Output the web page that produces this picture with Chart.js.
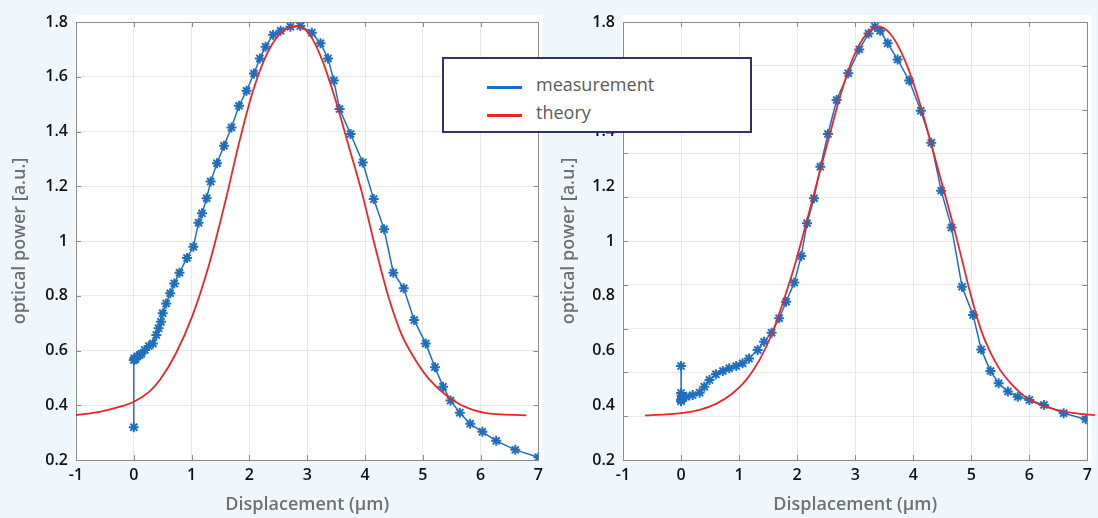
<!DOCTYPE html>
<html>
<head>
<meta charset="utf-8">
<script src="https://cdn.jsdelivr.net/npm/chart.js@4.4.0/dist/chart.umd.min.js"></script>
<style>
html, body { margin: 0; padding: 0; background: #f0f7fc; }
#wrap { position: relative; width: 1098px; height: 518px; overflow: hidden; }
.panel { position: absolute; top: 0; width: 549px; height: 518px; }
#legende {
    position: absolute; left: 442px; top: 57px; width: 306px; height: 72px;
    background: #ffffff; border: 2px solid #2e3566;
    font-family: "Open Sans", sans-serif; font-size: 18px; font-weight: 500; color: #5a5a5a;
}
.item { position: absolute; left: 43px; height: 22px; line-height: 22px; white-space: nowrap; }
.trait { display: inline-block; width: 35px; height: 3px; vertical-align: middle; margin-right: 14px; position: relative; top: 1px; }
</style>
</head>
<body>
<div id="wrap">
    <div class="panel" style="left:0"><canvas id="graphique1" width="549" height="518"></canvas></div>
    <div class="panel" style="left:549px"><canvas id="graphique2" width="549" height="518"></canvas></div>
    <div id="legende"></div>
</div>
<script>
// graduations
const xTicks = [-1, 0, 1, 2, 3, 4, 5, 6, 7];
const xTickLabels = ["-1", "0", "1", "2", "3", "4", "5", "6", "7"];
const yTicks = [0.2, 0.4, 0.6, 0.8, 1, 1.2, 1.4, 1.6, 1.8];
const yTickLabels = ["0.2", "0.4", "0.6", "0.8", "1", "1.2", "1.4", "1.6", "1.8"];

// graphique de gauche
const mesure1X = [0, 0, 0.01, 0.03, 0.06, 0.10, 0.13, 0.19, 0.26, 0.33, 0.39, 0.43, 0.47, 0.50, 0.56, 0.63, 0.70, 0.79, 0.92, 1.03, 1.12, 1.18, 1.26, 1.33, 1.44, 1.56, 1.69, 1.82, 1.95, 2.08, 2.18, 2.28, 2.41, 2.54, 2.71, 2.88, 3.08, 3.23, 3.36, 3.46, 3.56, 3.75, 3.96, 4.15, 4.33, 4.49, 4.67, 4.85, 5.05, 5.21, 5.35, 5.48, 5.64, 5.82, 6.03, 6.27, 6.60, 7.00];
const mesure1Y = [0.32, 0.565, 0.572, 0.568, 0.578, 0.583, 0.588, 0.602, 0.616, 0.626, 0.657, 0.681, 0.705, 0.736, 0.772, 0.809, 0.845, 0.884, 0.938, 0.979, 1.067, 1.101, 1.156, 1.217, 1.284, 1.348, 1.415, 1.494, 1.549, 1.612, 1.667, 1.710, 1.753, 1.768, 1.783, 1.785, 1.761, 1.722, 1.667, 1.586, 1.482, 1.391, 1.287, 1.153, 1.043, 0.884, 0.827, 0.711, 0.626, 0.539, 0.468, 0.417, 0.373, 0.332, 0.303, 0.270, 0.237, 0.210];
const theorie1X = [-1, -0.59, -0.30, 0, 0.27, 0.45, 0.73, 1.02, 1.31, 1.59, 1.82, 2.05, 2.28, 2.51, 2.70, 2.82, 3.03, 3.26, 3.49, 3.72, 3.95, 4.18, 4.40, 4.63, 4.86, 5.09, 5.38, 5.67, 6.07, 6.79];
const theorie1Y = [0.364, 0.376, 0.391, 0.413, 0.450, 0.492, 0.590, 0.730, 0.920, 1.150, 1.357, 1.540, 1.673, 1.753, 1.781, 1.784, 1.758, 1.661, 1.515, 1.345, 1.174, 0.975, 0.800, 0.660, 0.570, 0.500, 0.440, 0.400, 0.372, 0.363];

// graphique de droite
const mesure2X = [0, 0, 0, 0.01, 0, 0.02, 0.09, 0.20, 0.32, 0.40, 0.49, 0.60, 0.72, 0.83, 0.95, 1.06, 1.17, 1.32, 1.43, 1.56, 1.69, 1.81, 1.95, 2.07, 2.17, 2.29, 2.40, 2.53, 2.68, 2.88, 3.07, 3.23, 3.34, 3.43, 3.56, 3.73, 3.93, 4.13, 4.31, 4.48, 4.66, 4.84, 5.03, 5.17, 5.33, 5.47, 5.63, 5.80, 6.00, 6.25, 6.59, 6.97];
const mesure2Y = [0.543, 0.445, 0.42, 0.435, 0.415, 0.428, 0.431, 0.437, 0.446, 0.468, 0.492, 0.513, 0.525, 0.535, 0.543, 0.553, 0.571, 0.602, 0.632, 0.665, 0.718, 0.778, 0.848, 0.945, 1.065, 1.156, 1.271, 1.391, 1.515, 1.613, 1.700, 1.758, 1.783, 1.768, 1.722, 1.663, 1.586, 1.476, 1.359, 1.184, 1.049, 0.833, 0.730, 0.604, 0.525, 0.480, 0.450, 0.431, 0.419, 0.401, 0.371, 0.349];
const theorie2X = [-0.62, -0.25, 0, 0.32, 0.60, 0.89, 1.12, 1.35, 1.57, 1.75, 1.95, 2.15, 2.35, 2.55, 2.75, 2.97, 3.20, 3.40, 3.60, 3.83, 4.06, 4.29, 4.51, 4.74, 4.97, 5.10, 5.23, 5.46, 5.68, 5.97, 6.37, 6.77, 7.13];
const theorie2Y = [0.363, 0.367, 0.371, 0.383, 0.405, 0.444, 0.492, 0.565, 0.663, 0.772, 0.905, 1.060, 1.220, 1.380, 1.535, 1.673, 1.758, 1.783, 1.758, 1.673, 1.540, 1.369, 1.198, 1.016, 0.820, 0.720, 0.640, 0.541, 0.480, 0.425, 0.389, 0.371, 0.364];

// grille du graphique de droite (10 intervalles, pas alignée sur les étiquettes)
const grille2 = [0, 1, 2, 3, 4, 5, 6, 7, 8, 9, 10];

const bleu = "#1f6fbd";
const rouge = "#e8262a";

function points(xs, ys) {
    return xs.map((x, i) => ({x: x, y: ys[i]}));
}

// fond blanc, cadre et petites graduations intérieures
const cadre = {
    id: "cadre",
    beforeDraw(chart) {
        const {ctx, chartArea: a} = chart;
        ctx.save();
        ctx.fillStyle = "#ffffff";
        ctx.fillRect(a.left - 1, 15, a.right - a.left + 5, a.bottom - 15);
        ctx.restore();
    },
    beforeDatasetsDraw(chart) {
        const {ctx, chartArea: a, scales} = chart;
        const yScale = scales.yg || scales.y;
        ctx.save();
        ctx.strokeStyle = "#8a8a8a";
        ctx.lineWidth = 1;
        ctx.beginPath();
        for (const t of scales.x.ticks) {
            const px = Math.round(scales.x.getPixelForValue(t.value)) + 0.5;
            ctx.moveTo(px, a.top); ctx.lineTo(px, a.top + 5);
            ctx.moveTo(px, a.bottom); ctx.lineTo(px, a.bottom - 5);
        }
        for (const t of yScale.ticks) {
            const py = Math.round(yScale.getPixelForValue(t.value)) + 0.5;
            ctx.moveTo(a.left, py); ctx.lineTo(a.left + 5, py);
            ctx.moveTo(a.right, py); ctx.lineTo(a.right - 5, py);
        }
        ctx.stroke();
        ctx.strokeRect(Math.round(a.left) + 0.5, Math.round(a.top) + 0.5, Math.round(a.right - a.left), Math.round(a.bottom - a.top));
        ctx.restore();
    }
};

function config(mx, my, tx, ty, largeurAxe, grilleDecalee) {
    const scales = {
        x: {
            type: "linear",
            min: -1, max: 7,
            afterBuildTicks: (axis) => { axis.ticks = xTicks.map(v => ({value: v})); },
            afterFit: (axis) => { axis.height = 58; },
            grid: { color: "#e9e9e9", drawTicks: false },
            border: { display: false },
            ticks: {
                padding: 6,
                color: "#111111",
                font: { family: "Open Sans", size: 16, weight: "600" },
                callback: (v, i) => xTickLabels[i]
            },
            title: {
                display: true,
                text: "Displacement (µm)",
                color: "#707070",
                padding: { top: 0, bottom: 2 },
                font: { family: "Open Sans", size: 18, weight: "600" }
            }
        },
        y: {
            min: 0.2, max: 1.8,
            afterBuildTicks: (axis) => { axis.ticks = yTicks.map(v => ({value: v})); },
            afterFit: (axis) => { axis.width = largeurAxe; },
            grid: { display: !grilleDecalee, color: "#e9e9e9", drawTicks: false },
            border: { display: false },
            ticks: {
                padding: 8,
                color: "#111111",
                font: { family: "Open Sans", size: 16, weight: "600" },
                callback: (v, i) => yTickLabels[i]
            },
            title: {
                display: true,
                text: "optical power [a.u.]",
                color: "#707070",
                padding: { top: 9, bottom: 0 },
                font: { family: "Open Sans", size: 18, weight: "600" }
            }
        }
    };
    if (grilleDecalee) {
        scales.yg = {
            position: "left",
            min: 0, max: 10,
            afterBuildTicks: (axis) => { axis.ticks = grille2.map(v => ({value: v})); },
            afterFit: (axis) => { axis.width = 0; },
            grid: { color: "#e9e9e9", drawTicks: false },
            border: { display: false },
            ticks: { display: false }
        };
    }
    return {
        type: "line",
        data: {
            datasets: [{
                label: "measurement",
                data: points(mx, my),
                borderColor: bleu,
                backgroundColor: bleu,
                borderWidth: 1.5,
                pointStyle: "star",
                pointRadius: 5,
                pointBorderWidth: 2,
                tension: 0,
                order: 1
            }, {
                label: "theory",
                data: points(tx, ty),
                borderColor: rouge,
                borderWidth: 1.8,
                pointRadius: 0,
                cubicInterpolationMode: "monotone",
                clip: false,
                order: 0
            }]
        },
        options: {
            responsive: false,
            animation: false,
            layout: { padding: { top: 22, right: 8, left: 0, bottom: 0 } },
            plugins: {
                legend: { display: false },
                tooltip: { enabled: false }
            },
            scales: scales
        },
        plugins: [cadre]
    };
}

const chart1 = new Chart(
    document.querySelector("#graphique1"),
    config(mesure1X, mesure1Y, theorie1X, theorie1Y, 76, false)
);
const chart2 = new Chart(
    document.querySelector("#graphique2"),
    config(mesure2X, mesure2Y, theorie2X, theorie2Y, 74, true)
);

// légende commune, construite à partir des séries
const legende = document.querySelector("#legende");
chart2.data.datasets.forEach((d, i) => {
    const item = document.createElement("div");
    item.className = "item";
    item.style.top = (14 + i * 28) + "px";
    item.innerHTML = '<span class="trait" style="background:' + d.borderColor + '"></span>' + d.label;
    legende.appendChild(item);
});
</script>
</body>
</html>
